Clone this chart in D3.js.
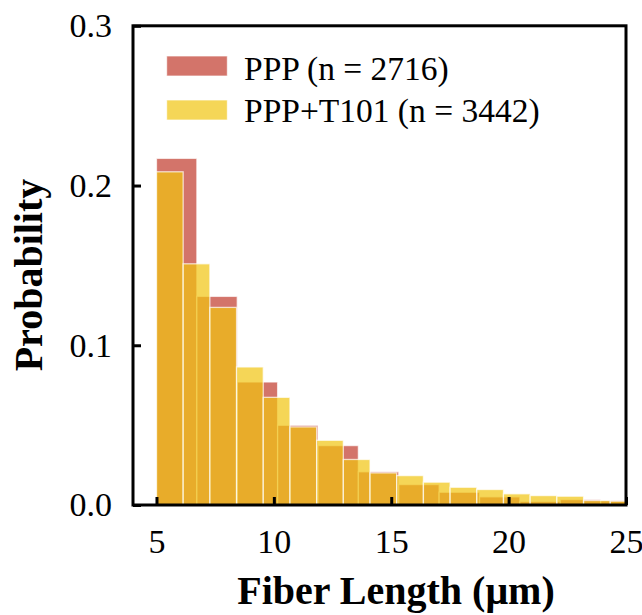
<!DOCTYPE html>
<html>
<head>
<meta charset="utf-8">
<script src="https://cdn.jsdelivr.net/npm/d3@7"></script>
<style>
  body { margin: 0; background: #fff; }
  text { font-family: "Liberation Serif", "Times New Roman", serif; }
</style>
</head>
<body>
<div id="hist"></div>
<script>
// histogram data (probability per bin)
const seriesNames = ["PPP (n = 2716)", "PPP+T101 (n = 3442)"];
const binStart = 5;
const pppBinWidth = 1.72;
const pppProb = [0.217, 0.1306, 0.077, 0.0499, 0.0372, 0.0208, 0.0128, 0.0080, 0.0051, 0.0022, 0.0034, 0.0028];
const t101BinWidth = 1.137;
const t101Prob = [0.2086, 0.151, 0.1237, 0.0864, 0.0674, 0.0489, 0.0405, 0.0285, 0.0201, 0.0184, 0.0143,
                  0.0111, 0.0097, 0.0070, 0.0059, 0.0055, 0.0028, 0.0024];
const xTicks = [5, 10, 15, 20, 25];
const yTicks = [0.0, 0.1, 0.2, 0.3];

const W = 642, H = 615;
const margin = {top: 25.8, right: 16, bottom: 110, left: 133};
const width = W - margin.left - margin.right,
      height = H - margin.top - margin.bottom;

const svg = d3.select("#hist")
  .append("svg")
    .attr("width", W)
    .attr("height", H)
  .append("g")
    .attr("transform", `translate(${margin.left},${margin.top})`);

const x = d3.scaleLinear().domain([4, 25]).range([0, width]);
const y = d3.scaleLinear().domain([0, 0.3]).range([height, 0]);

svg.append("clipPath").attr("id", "plotclip")
  .append("rect").attr("width", width).attr("height", height);

const colors = ["#C0392B", "#F1C40F"];

function bins(probs, w) {
  return probs.map((p, i) => ({x0: binStart + i * w, x1: binStart + (i + 1) * w, p: p}));
}

const layers = [bins(pppProb, pppBinWidth), bins(t101Prob, t101BinWidth)];

// red first, yellow drawn over it
const plot = svg.append("g").attr("clip-path", "url(#plotclip)");
layers.forEach((data, k) => {
  plot.append("g")
    .selectAll("rect")
    .data(data)
    .join("rect")
      .attr("x", d => x(d.x0))
      .attr("y", d => y(d.p))
      .attr("width", d => x(d.x1) - x(d.x0))
      .attr("height", d => y(0) - y(d.p))
      .attr("fill", colors[k])
      .attr("fill-opacity", 0.7)
      .attr("stroke", "#fff")
      .attr("stroke-opacity", 0.7)
      .attr("stroke-width", 1.3);
});

// axes with inward ticks
const xAxis = svg.append("g")
  .attr("transform", `translate(0,${height})`)
  .call(d3.axisBottom(x).tickValues(xTicks).tickSize(-8).tickPadding(24).tickFormat(d3.format("d")));
const yAxis = svg.append("g")
  .call(d3.axisLeft(y).tickValues(yTicks).tickSize(-8).tickPadding(21).tickFormat(d3.format(".1f")));

[xAxis, yAxis].forEach(a => {
  a.select(".domain").remove();
  a.selectAll(".tick line").attr("stroke", "#000").attr("stroke-width", 3);
  a.selectAll(".tick text")
    .attr("fill", "#000")
    .style("font-family", "'Liberation Serif', 'Times New Roman', serif")
    .style("font-size", "34px");
});
xAxis.selectAll(".tick text").attr("dy", "0.71em");

// frame
svg.append("rect")
  .attr("width", width)
  .attr("height", height)
  .attr("fill", "none")
  .attr("stroke", "#000")
  .attr("stroke-width", 3);

// axis titles
svg.append("text")
  .attr("x", 396 - margin.left)
  .attr("y", 604 - margin.top)
  .attr("text-anchor", "middle")
  .style("font-size", "40px")
  .style("font-weight", "bold")
  .text("Fiber Length (\u03bcm)");

svg.append("text")
  .attr("transform", `translate(${41.5 - margin.left},${275 - margin.top}) rotate(-90)`)
  .attr("text-anchor", "middle")
  .style("font-size", "40px")
  .style("font-weight", "bold")
  .text("Probability");

// legend
const legend = svg.append("g").attr("transform", `translate(${166.7 - margin.left},${56 - margin.top})`);
seriesNames.forEach((name, i) => {
  const row = legend.append("g").attr("transform", `translate(0,${i * 44})`);
  row.append("rect")
    .attr("width", 60.6)
    .attr("height", 20)
    .attr("fill", colors[i])
    .attr("fill-opacity", 0.7)
    .attr("stroke", "#fff")
    .attr("stroke-opacity", 0.7);
  row.append("text")
    .attr("x", 77.3)
    .attr("y", i === 0 ? 24 : 22)
    .style("font-size", "33.5px")
    .text(name);
});
</script>
</body>
</html>
